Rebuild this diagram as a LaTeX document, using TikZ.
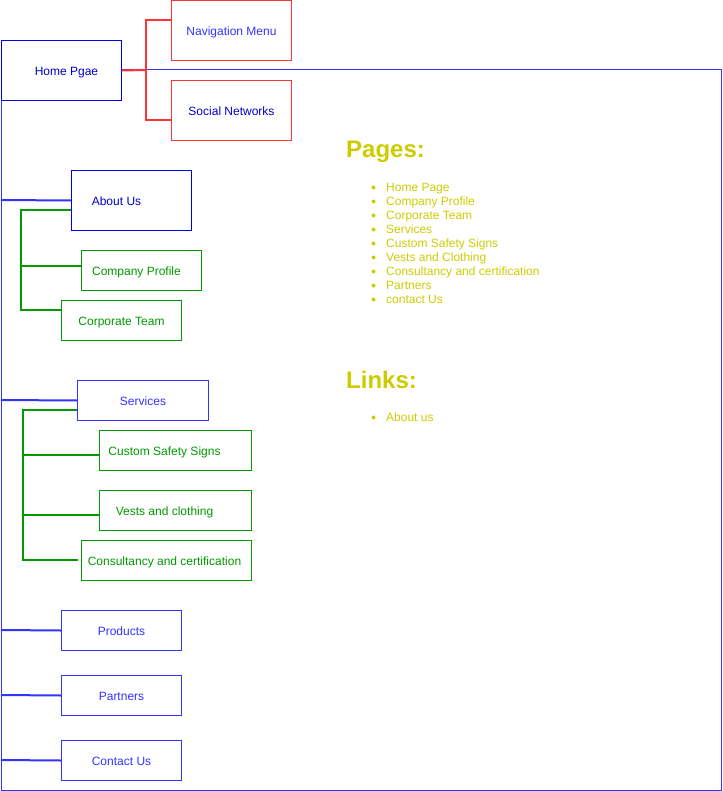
\documentclass[tikz,border=0pt]{standalone}
\usepackage{fontspec}
\setmainfont{Liberation Sans}
\definecolor{bdark}{HTML}{0000EE}
\definecolor{blite}{HTML}{3333FF}
\definecolor{tdark}{HTML}{0000CC}
\definecolor{rline}{HTML}{FF3333}
\definecolor{gline}{HTML}{009900}
\definecolor{ylw}{HTML}{CCCC00}
\begin{document}
\begin{tikzpicture}[x=1pt,y=-1pt,
  lbl/.style={font=\fontsize{12}{14}\selectfont, text height=9pt, text depth=2.5pt, yshift=-2pt},
  box/.style={draw, fill=white, line width=1pt, minimum width=120pt, minimum height=60pt, inner sep=0pt, anchor=north west},
  bluebox/.style={box, draw=blite},
  darkbox/.style={box, draw=bdark},
  redbox/.style={box, draw=rline},
  greenbox/.style={box, draw=gline, minimum height=40pt},
  conn/.style={line width=2pt},
  item/.style={anchor=base west, text=ylw, font=\fontsize{12}{14}\selectfont, inner sep=0pt},
  head/.style={anchor=base west, text=ylw, font=\fontsize{24}{28}\selectfont\bfseries, inner sep=0pt},
  bul/.style={circle, fill=ylw, inner sep=0pt, minimum size=4pt}]
\useasboundingbox (0,0) rectangle (722,791);
% outer frame
\coordinate (fr1) at (721,70);
\coordinate (fr2) at (721,790);
\coordinate (fr3) at (1,790);
\coordinate (fr4) at (1,100);
\draw[blite, line width=1pt] (121,70) -- (fr1) -- (fr2) -- (fr3) -- (fr4);
% left spine points
\coordinate (sp1) at (1,200);
\coordinate (sp2) at (1,400);
\coordinate (sp3) at (1,630);
\coordinate (sp4) at (1,695);
\coordinate (sp5) at (1,760);
% home
\node[darkbox, label={[lbl, xshift=5pt, text=tdark]center:Home Pgae}] (home) at (1,40) {};
\node[redbox, label={[lbl, text=blite]center:Navigation Menu}] (nav) at (171,0) {};
\node[redbox, label={[lbl, text=tdark]center:Social Networks}] (soc) at (171,80) {};
\coordinate (rj) at (146,70);
\coordinate (rn) at (171,20);
\coordinate (rs) at (171,120);
\draw[rline, conn] (home.east) -- (rj);
\draw[rline, conn] (rn) -| (rj) |- (rs);
% about
\node[darkbox, label={[lbl, xshift=-15pt, text=tdark]center:About Us}] (about) at (71,170) {};
\node[greenbox, label={[lbl, xshift=-5pt, text=gline]center:Company Profile}] (cp) at (81,250) {};
\node[greenbox, label={[lbl, text=gline]center:Corporate Team}] (ct) at (61,300) {};
\draw[blite, conn] (sp1) -- (about.west);
\coordinate (ab1) at (71,210);
\coordinate (ab2) at (21,210);
\coordinate (cp1) at (81,266);
\coordinate (ct1) at (61,310);
\draw[gline, conn] (ab1) -- (ab2) |- (ct1);
\draw[gline, conn] (ab2 |- cp1) -- (cp1);
% services
\node[bluebox, minimum width=131pt, minimum height=40pt, label={[lbl, text=blite]center:Services}] (srv) at (77,380) {};
\node[greenbox, minimum width=152pt, label={[lbl, xshift=-11pt, text=gline]center:Custom Safety Signs}] (css) at (99,430) {};
\node[greenbox, minimum width=152pt, label={[lbl, xshift=-11pt, text=gline]center:Vests and clothing}] (vc) at (99,490) {};
\node[greenbox, minimum width=170pt, label={[lbl, xshift=-2pt, text=gline]center:Consultancy and certification}] (cc) at (81,540) {};
\draw[blite, conn] (sp2) -- (srv.west);
\coordinate (sv1) at (77,410);
\coordinate (sv2) at (23,410);
\coordinate (sv3) at (78,560);
\coordinate (cs1) at (99,455);
\coordinate (vc1) at (99,515);
\draw[gline, conn] (sv1) -- (sv2) |- (sv3);
\draw[gline, conn] (sv2 |- cs1) -- (cs1);
\draw[gline, conn] (sv2 |- vc1) -- (vc1);
% bottom pages
\node[bluebox, minimum height=40pt, label={[lbl, text=blite]center:Products}] (prod) at (61,610) {};
\node[bluebox, minimum height=40pt, label={[lbl, text=blite]center:Partners}] (part) at (61,675) {};
\node[bluebox, minimum height=40pt, label={[lbl, text=blite]center:Contact Us}] (cont) at (61,740) {};
\draw[blite, conn] (sp3) -- (prod.west);
\draw[blite, conn] (sp4) -- (part.west);
\draw[blite, conn] (sp5) -- (cont.west);
% pages list
\node[head] (hp) at (346,158) {Pages:};
\foreach \t [count=\i from 0] in {Home Page,Company Profile,Corporate Team,Services,Custom Safety Signs,Vests and Clothing,Consultancy and certification,Partners,contact Us}{
  \node[bul] (b\i) at (373.5,187.5+14*\i) {};
  \node[item] (p\i) at (386,191.5+14*\i) {\t};
}
\node[head] (hl) at (346,388) {Links:};
\node[bul] (bl) at (373.5,417.5) {};
\node[item] (l0) at (386,421.5) {About us};
\end{tikzpicture}
\end{document}
